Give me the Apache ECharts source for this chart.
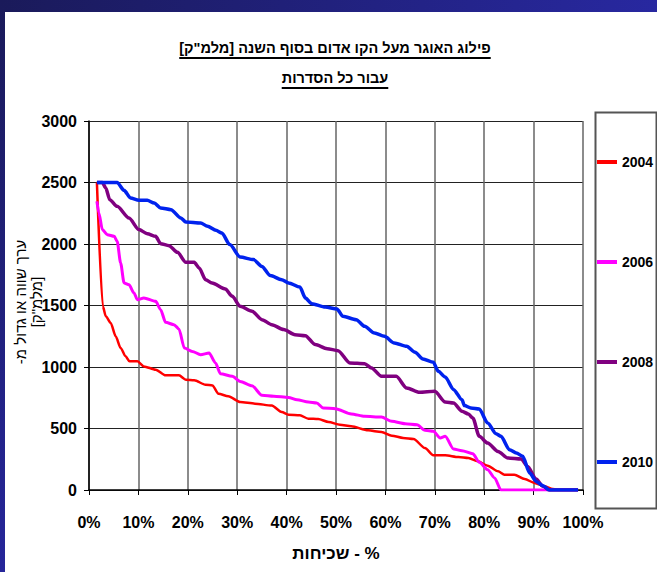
<!DOCTYPE html>
<html>
<head>
<meta charset="utf-8">
<script src="https://cdn.jsdelivr.net/npm/echarts@6/dist/echarts.min.js"></script>
<style>
  html, body { margin: 0; padding: 0; background: #fff; }
  #chart { width: 657px; height: 572px; }
</style>
</head>
<body>
<div id="chart"></div>
<script>
// data (x = % of time, y = value)
var seriesNames = ['2004', '2006', '2008', '2010'];
var xTicks = [0, 10, 20, 30, 40, 50, 60, 70, 80, 90, 100];
var yTicks = [0, 500, 1000, 1500, 2000, 2500, 3000];

var x2004 = [1.6, 2.8, 3.4, 4.4, 5.4, 6.4, 7.4, 8.2, 9.8, 11.1, 13.5, 15.5, 18.2, 19.6, 21.3, 23.6, 25.0, 26.2, 28.2, 30.6, 33.6, 37.0, 39.0, 40.4, 42.7, 44.4, 46.4, 48.5, 50.8, 53.1, 56.5, 59.2, 61.3, 63.6, 65.7, 68.0, 69.7, 72.1, 74.8, 76.8, 78.7, 80.7, 82.8, 84.1, 86.1, 88.2, 90.2, 92.2, 93.6, 94.9, 97.0, 99.0];
var y2004 = [2500, 1493, 1412, 1358, 1250, 1155, 1087, 1046, 1046, 1005, 978, 932, 932, 897, 892, 856, 850, 783, 762, 715, 702, 686, 634, 612, 607, 580, 577, 553, 531, 518, 485, 472, 442, 423, 415, 341, 282, 282, 268, 260, 233, 198, 152, 125, 125, 89, 57, 30, 11, 0, 0, 0];

var x2006 = [1.6, 2.0, 2.7, 3.7, 5.1, 5.7, 6.4, 7.1, 8.1, 9.1, 9.8, 11.1, 13.5, 14.5, 15.5, 17.2, 18.2, 19.3, 20.9, 22.6, 24.3, 25.6, 26.6, 29.0, 30.6, 33.0, 35.0, 37.4, 40.4, 42.1, 44.4, 46.1, 47.4, 49.9, 53.1, 55.8, 59.2, 61.3, 64.0, 66.4, 68.0, 69.7, 71.1, 72.1, 73.8, 75.5, 77.7, 79.0, 80.7, 82.1, 83.4, 86.0, 90.0, 94.0, 99.0];
var y2006 = [2347, 2252, 2117, 2076, 2062, 2022, 1846, 1683, 1669, 1602, 1547, 1561, 1534, 1466, 1363, 1344, 1309, 1154, 1127, 1100, 1114, 1033, 946, 924, 883, 848, 770, 762, 753, 734, 715, 707, 667, 661, 618, 599, 593, 558, 539, 531, 485, 477, 423, 436, 333, 320, 295, 225, 165, 98, 0, 0, 0, 0, 0];

var x2008 = [1.6, 2.7, 3.4, 4.2, 5.7, 8.1, 10.1, 11.8, 13.5, 14.5, 16.2, 17.9, 19.6, 21.3, 22.3, 23.6, 24.9, 27.6, 29.0, 30.6, 33.0, 35.0, 37.0, 39.4, 41.7, 43.8, 45.8, 48.2, 50.4, 52.8, 55.8, 57.2, 59.2, 62.2, 64.3, 66.9, 70.0, 72.1, 73.8, 75.5, 76.8, 77.7, 79.0, 80.7, 82.8, 84.8, 87.5, 88.8, 90.5, 91.9, 93.2, 96.0, 99.0];
var y2008 = [2500, 2500, 2455, 2360, 2306, 2211, 2117, 2084, 2062, 2003, 1986, 1932, 1851, 1851, 1805, 1710, 1683, 1634, 1575, 1493, 1453, 1385, 1344, 1304, 1263, 1255, 1182, 1149, 1133, 1033, 1027, 992, 924, 924, 829, 794, 802, 715, 707, 640, 618, 585, 436, 382, 314, 260, 252, 192, 89, 30, 0, 0, 0];

var x2010 = [1.6, 5.7, 7.1, 8.4, 10.1, 11.8, 13.2, 14.5, 16.6, 18.6, 19.6, 22.6, 24.0, 25.7, 26.9, 28.5, 30.6, 33.3, 35.0, 36.7, 39.0, 40.4, 42.7, 43.8, 45.1, 47.8, 50.2, 51.4, 54.1, 55.8, 57.8, 59.8, 61.8, 64.3, 66.0, 67.6, 69.7, 70.7, 72.1, 73.8, 75.5, 76.0, 77.3, 79.0, 80.7, 82.4, 83.4, 85.1, 86.5, 87.8, 89.2, 90.5, 91.9, 93.2, 96.0, 99.0];
var y2010 = [2500, 2500, 2436, 2374, 2355, 2355, 2333, 2293, 2279, 2211, 2179, 2171, 2144, 2111, 2089, 1995, 1894, 1873, 1818, 1743, 1710, 1683, 1650, 1561, 1515, 1488, 1472, 1412, 1385, 1331, 1276, 1249, 1195, 1168, 1119, 1065, 1038, 965, 919, 816, 734, 686, 667, 659, 545, 458, 436, 328, 301, 274, 138, 70, 35, 0, 0, 0];

var titleLines = ['פילוג האוגר מעל הקו אדום בסוף השנה [מלמ"ק]', 'עבור כל הסדרות'];
// RLM marks keep the trailing hyphen on the left (right-to-left run)
var yTitle = '\u200Fערך שווה או גדול מ-\u200F\n[מלמ"ק]';
var xTitle = 'שכיחות - %';

var FONT = '"Liberation Sans", Arial, sans-serif';
var colors = ['#ff0000', '#ff00ff', '#800080', '#0022ee'];
var widths = [2.5, 3, 3.5, 3.5];

function pairs(xs, ys) {
  return xs.map(function (v, i) { return [v, ys[i]]; });
}

function textWidth(str, font) {
  var ctx = document.createElement('canvas').getContext('2d');
  ctx.font = font;
  return ctx.measureText(str).width;
}

var chartDom = document.getElementById('chart');
var myChart = echarts.init(chartDom, null, { renderer: 'svg' });
var option;

// underlined title lines
var titleGraphics = [];
var titleY = [48, 78];
var titleFont = 'bold 14.5px ' + FONT;
titleLines.forEach(function (t, i) {
  var w = textWidth(t, titleFont);
  titleGraphics.push({
    type: 'text', x: 335, y: titleY[i],
    style: { text: t, font: titleFont, fill: '#000', align: 'center', verticalAlign: 'middle' }
  });
  titleGraphics.push({
    type: 'line',
    shape: { x1: 335 - w / 2, y1: titleY[i] + 10, x2: 335 + w / 2, y2: titleY[i] + 10 },
    style: { stroke: '#000', lineWidth: 2 }
  });
});

option = {
  backgroundColor: '#fff',
  animation: false,
  color: colors,
  grid: { left: 89, right: 74, top: 121, bottom: 82 },
  legend: {
    orient: 'vertical',
    left: 597,
    top: 154,
    padding: 0,
    itemGap: 84,
    itemWidth: 20,
    itemHeight: 4,
    icon: 'rect',
    data: seriesNames,
    textStyle: { fontFamily: FONT, fontWeight: 'bold', fontSize: 14, lineHeight: 16, color: '#000' }
  },
  xAxis: {
    type: 'value',
    min: 0, max: 100, interval: 10,
    name: xTitle,
    nameLocation: 'middle',
    nameGap: 55,
    nameTextStyle: { fontFamily: FONT, fontWeight: 'bold', fontSize: 17, color: '#000' },
    axisLine: { lineStyle: { color: '#000', width: 1.5 } },
    axisTick: { show: true, length: 5, lineStyle: { color: '#000' } },
    axisLabel: {
      margin: 24,
      fontFamily: FONT, fontWeight: 'bold', fontSize: 16, color: '#000',
      formatter: function (v) { return xTicks.indexOf(v) >= 0 ? v + '%' : ''; }
    },
    splitLine: { show: true, lineStyle: { color: '#666', width: 1.5 } }
  },
  yAxis: {
    type: 'value',
    min: 0, max: 3000, interval: 500,
    axisLine: { show: true, lineStyle: { color: '#000', width: 1.5 } },
    axisTick: { show: true, length: 5, lineStyle: { color: '#000' } },
    axisLabel: {
      margin: 12,
      fontFamily: FONT, fontWeight: 'bold', fontSize: 16, color: '#000',
      formatter: function (v) { return yTicks.indexOf(v) >= 0 ? String(v) : ''; }
    },
    splitLine: { show: true, lineStyle: { color: '#222', width: 1 } }
  },
  graphic: [
    // navy frame
    {
      type: 'rect', left: 0, top: 0, z: 100,
      shape: { width: 657, height: 12 },
      style: { fill: new echarts.graphic.LinearGradient(0, 0, 1, 0, [
        { offset: 0, color: '#1a1a5a' }, { offset: 1, color: '#2828a0' }]) }
    },
    {
      type: 'rect', left: 0, top: 0, z: 100,
      shape: { width: 5, height: 572 },
      style: { fill: new echarts.graphic.LinearGradient(0, 0, 0, 1, [
        { offset: 0, color: '#1a1a5a' }, { offset: 1, color: '#26269a' }]) }
    },
    // legend box
    {
      type: 'rect', left: 593, top: 110, z: 0,
      shape: { width: 61, height: 396 },
      style: { fill: 'none', stroke: '#555', lineWidth: 2 }
    },
    // y axis title (rotated)
    {
      type: 'text', x: 28, y: 302, rotation: Math.PI / 2,
      style: {
        text: yTitle, font: '15px ' + FONT, fill: '#000',
        align: 'center', verticalAlign: 'middle', lineHeight: 16
      }
    }
  ].concat(titleGraphics),
  series: [
    { name: '2004', data: pairs(x2004, y2004) },
    { name: '2006', data: pairs(x2006, y2006) },
    { name: '2008', data: pairs(x2008, y2008) },
    { name: '2010', data: pairs(x2010, y2010) }
  ].map(function (s, i) {
    return {
      name: s.name,
      type: 'line',
      data: s.data,
      smooth: 0.25,
      smoothMonotone: 'x',
      symbol: 'none',
      lineStyle: { width: widths[i] }
    };
  })
};

option && myChart.setOption(option);
</script>
</body>
</html>
